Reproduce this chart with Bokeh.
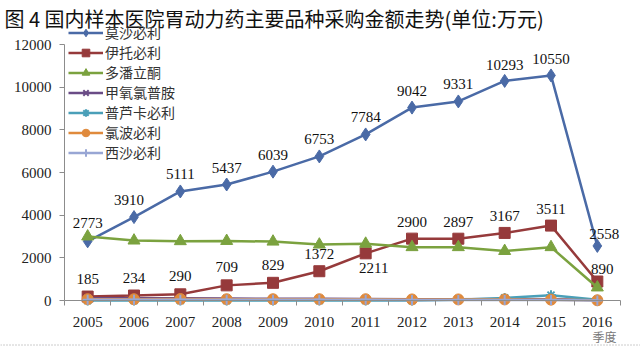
from bokeh.plotting import figure
from bokeh.models import (ColumnDataSource, Label, Legend, LegendItem, FixedTicker,
                          Range1d, LinearAxis, Span)
from bokeh.core.properties import value
from bokeh.embed import file_html
from bokeh.resources import INLINE

years = ["2005", "2006", "2007", "2008", "2009", "2010", "2011", "2012", "2013", "2014", "2015", "2016"]
mosapride = [2773, 3910, 5111, 5437, 6039, 6753, 7784, 9042, 9331, 10293, 10550, 2558]
itopride = [185, 234, 290, 709, 829, 1372, 2211, 2900, 2897, 3167, 3511, 890]
domperidone = [3000, 2810, 2780, 2790, 2760, 2620, 2660, 2500, 2500, 2320, 2500, 610]
metoclopramide = [110, 100, 100, 90, 80, 80, 70, 60, 60, 70, 60, 20]
prucalopride = [0, 0, 0, 0, 0, 0, 0, 0, 30, 120, 250, 30]
clebopride = [60, 60, 70, 60, 60, 60, 60, 50, 50, 50, 40, 10]
cisapride = [40, 40, 40, 30, 30, 30, 30, 20, 20, 20, 20, 5]

names = ["莫沙必利", "伊托必利", "多潘立酮", "甲氧氯普胺", "普芦卡必利", "氯波必利", "西沙必利"]
title_text = "图 4  国内样本医院胃动力药主要品种采购金额走势(单位:万元)"
x_axis_title = "季度"
y_ticks = [0, 2000, 4000, 6000, 8000, 10000, 12000]
y_max = 12000

SERIF = "Liberation Serif"
CJK = "Noto Sans CJK SC"

W, H = 640, 346
# plot area in screen pixels (left, right, top, bottom)
L, R, T, B = 64, 620, 44, 300
xs = list(range(len(years)))
n = len(years)
ux = (R - L) / n
uy = y_max / (B - T)
x0 = -0.5 - L / ux
x1 = n - 0.5 + (W - R) / ux
y0 = -(H - B) * uy
y1 = y_max + T * uy

p = figure(width=W, height=H, output_backend="svg", toolbar_location=None,
           x_range=Range1d(x0, x1), y_range=Range1d(y0, y1),
           x_axis_location=None, y_axis_location=None,
           min_border=0)
p.outline_line_color = None
p.xgrid.grid_line_color = None
p.ygrid.grid_line_color = None
p.background_fill_color = "white"
p.border_fill_color = "white"

yaxis = LinearAxis(fixed_location=-0.5, bounds=(0, y_max),
                   ticker=FixedTicker(ticks=y_ticks))
yaxis.axis_line_color = "#8c8c8c"
yaxis.major_tick_line_color = "#8c8c8c"
yaxis.major_tick_out = 5
yaxis.major_tick_in = 0
yaxis.minor_tick_line_color = None
yaxis.major_label_text_font = SERIF
yaxis.major_label_text_font_size = "15px"
yaxis.major_label_text_color = "#222222"
yaxis.major_label_standoff = 8
p.add_layout(yaxis, "left")

xaxis = LinearAxis(fixed_location=0, bounds=(-0.5, n - 0.5),
                   ticker=FixedTicker(ticks=xs, minor_ticks=[i - 0.5 for i in range(n + 1)]))
xaxis.major_label_overrides = {i: y for i, y in enumerate(years)}
xaxis.axis_line_color = "#8c8c8c"
xaxis.major_tick_line_color = None
xaxis.minor_tick_line_color = "#8c8c8c"
xaxis.minor_tick_out = 5
xaxis.minor_tick_in = 0
xaxis.major_label_text_font = SERIF
xaxis.major_label_text_font_size = "15px"
xaxis.major_label_text_color = "#222222"
xaxis.major_label_standoff = 10
p.add_layout(xaxis, "below")

series = [
    (mosapride, "#4a6aa6", "diamond", 13),
    (itopride, "#963a3b", "square", 11),
    (domperidone, "#7ba23f", "triangle", 12),
    (metoclopramide, "#6a4c86", "x", 10),
    (prucalopride, "#4a9fb8", "asterisk", 10),
    (clebopride, "#e08a3c", "circle", 11),
    (cisapride, "#98a6d4", "cross", 10),
]

items = []
for (vals, color, marker, size), name in zip(series, names):
    src = ColumnDataSource(dict(x=xs, y=vals))
    ln = p.line("x", "y", source=src, line_color=color, line_width=2.5)
    if marker in ("x", "asterisk", "cross"):
        mk = p.scatter("x", "y", source=src, marker=marker, size=size,
                       line_color=color, line_width=2, fill_color=color)
    else:
        mk = p.scatter("x", "y", source=src, marker=marker, size=size,
                       line_color=color, fill_color=color)
    items.append(LegendItem(label=name, renderers=[ln, mk]))

# data labels (pixel offsets from each point)
blue_dx = [0, -5, 0, 0, 0, 0, 0, 0, 0, 0, 0, 7]
blue_dy = [-18, -17, -17, -17, -17, -17, -17, -17, -17, -16, -16, -12]
red_dx = [0, 0, 0, 0, 0, 0, 8, 0, 0, 0, 0, 5]
red_dy = [-18, -18, -18, -18, -18, -17, 15, -17, -17, -17, -17, -13]
for vals, dx, dy in [(mosapride, blue_dx, blue_dy), (itopride, red_dx, red_dy)]:
    src = ColumnDataSource(dict(x=xs, y=vals, t=[str(v) for v in vals], dx=dx, dy=dy))
    p.text("x", "y", text="t", source=src, x_offset="dx", y_offset="dy",
           text_align="center", text_baseline="middle",
           text_font=value(SERIF), text_font_size="15px", text_color="#111111")

legend = Legend(items=items, location=(L + 4, H - 29 - 7 * 19), glyph_width=35, glyph_height=19,
                label_height=19, spacing=0, padding=0, margin=0,
                label_text_font=CJK, label_text_font_size="14px",
                label_text_color="#333333", label_standoff=2,
                background_fill_alpha=0, border_line_color=None)
p.add_layout(legend)

p.add_layout(Label(x=4, y=H - 18, x_units="screen", y_units="screen", text=title_text,
                   text_font=CJK, text_font_size="20px", text_color="#111111",
                   text_baseline="middle"))
p.add_layout(Label(x=604, y=H - 336, x_units="screen", y_units="screen", text=x_axis_title,
                   text_font=CJK, text_font_size="12px", text_color="#777777",
                   text_baseline="middle", text_align="center"))
p.add_layout(Span(location=y0 + 1.5 * uy, dimension="width", line_color="#999999",
                  line_width=1, line_dash="1 2"))

open("out.html", "w").write(file_html(p, INLINE))
